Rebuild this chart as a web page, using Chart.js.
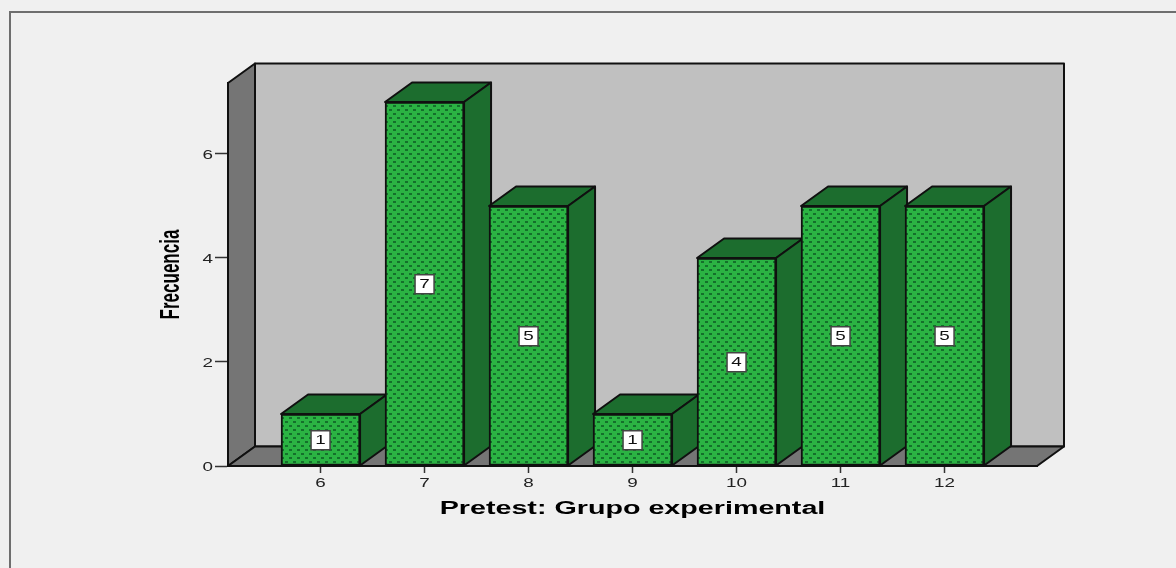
<!DOCTYPE html>
<html><head><meta charset="utf-8">
<style>html,body{margin:0;padding:0;background:#f0f0f0;overflow:hidden}canvas{display:block}</style>
<script src="https://cdn.jsdelivr.net/npm/chart.js@4/dist/chart.umd.js"></script>
</head><body><canvas id="c" width="1176" height="568"></canvas>
<script>
const categories = [6, 7, 8, 9, 10, 11, 12];
const frecuencia = [1, 7, 5, 1, 4, 5, 5];
const yTicks = [0, 2, 4, 6];
const xTitle = 'Pretest: Grupo experimental';
const yTitle = 'Frecuencia';

const DEPTH_X = 27, DEPTH_Y = 19.5;
const pal = {bg:'#f0f0f0', frame:'#6e6e6e', back:'#c0c0c0', wall:'#757575', face:'#1c6d2e', line:'#101010', fg:'#222'};

function dotPattern(ctx){
  const p = document.createElement('canvas'); p.width = 8; p.height = 8;
  const g = p.getContext('2d');
  g.fillStyle = '#2bb343'; g.fillRect(0,0,8,8);
  g.fillStyle = '#14702b';
  g.fillRect(1,1,3,2); g.fillRect(5,5,3,2);
  return ctx.createPattern(p,'repeat');
}
function poly(ctx, pts, fill){
  ctx.beginPath(); pts.forEach((q,i)=> i?ctx.lineTo(q[0],q[1]):ctx.moveTo(q[0],q[1])); ctx.closePath();
  ctx.fillStyle = fill; ctx.fill();
  ctx.lineWidth = 2; ctx.strokeStyle = pal.line; ctx.lineJoin='round'; ctx.stroke();
}
const stretchText = {
  id:'stretchText',
  beforeDraw(chart){
    const ctx = chart.ctx;
    if (ctx.__wrapped) return;
    const orig = ctx.fillText.bind(ctx);
    ctx.fillText = function(t,x,y,w){
      const m = ctx.getTransform();
      const rotated = Math.abs(m.b) > 0.5;
      const sx = rotated ? 0.63 : (ctx.font.indexOf('bold') >= 0 ? 1.593 : 1.45);
      ctx.save(); ctx.translate(x,y);
      ctx.scale(sx, 1);
      orig(t,0,0); ctx.restore();
    };
    ctx.__wrapped = true;
  }
};
const frame3d = {
  id:'frame3d',
  beforeDraw(chart){
    const ctx = chart.ctx;
    ctx.save();
    ctx.fillStyle = pal.bg; ctx.fillRect(0,0,chart.width,chart.height);
    ctx.strokeStyle = pal.frame; ctx.lineWidth = 2;
    ctx.beginPath(); ctx.moveTo(10,568); ctx.lineTo(10,12); ctx.lineTo(1176,12); ctx.stroke();
    ctx.restore();
  },
  beforeDatasetsDraw(chart){
    const ctx = chart.ctx, a = chart.chartArea;
    const L=a.left,R=a.right,T=a.top,B=a.bottom,dx=DEPTH_X,dy=DEPTH_Y;
    ctx.save();
    poly(ctx,[[L+dx,T-dy],[R+dx,T-dy],[R+dx,B-dy],[L+dx,B-dy]],pal.back);
    poly(ctx,[[L,T],[L+dx,T-dy],[L+dx,B-dy],[L,B]],pal.wall);
    poly(ctx,[[L,B],[L+dx,B-dy],[R+dx,B-dy],[R,B]],pal.wall);
    chart.getDatasetMeta(0).data.forEach(el=>{
      const l=el.x-el.width/2, r=el.x+el.width/2, t=el.y, b=el.base;
      poly(ctx,[[l,t],[l+dx,t-dy],[r+dx,t-dy],[r,t]],pal.face);
      poly(ctx,[[r,t],[r+dx,t-dy],[r+dx,b-dy],[r,b]],pal.face);
    });
    ctx.restore();
  },
  afterDatasetsDraw(chart){
    const ctx = chart.ctx;
    const vals = chart.data.datasets[0].data;
    ctx.save();
    chart.getDatasetMeta(0).data.forEach((el,i)=>{
      const cy=(el.y+el.base)/2+0.5, s=19;
      ctx.fillStyle='#fff'; ctx.fillRect(el.x-s/2,cy-s/2,s,s);
      ctx.strokeStyle='#444'; ctx.lineWidth=1.5; ctx.strokeRect(el.x-s/2,cy-s/2,s,s);
      ctx.fillStyle='#111'; ctx.font='13px "Liberation Sans"'; ctx.textAlign='center'; ctx.textBaseline='middle';
      ctx.fillText(String(vals[i].y),el.x,cy+0.5);
    });
    ctx.restore();
  }
};
const ctx = document.getElementById('c').getContext('2d');
new Chart(ctx,{
  type:'bar',
  data:{datasets:[{label:yTitle,
    data:categories.map((c,i)=>({x:c,y:frecuencia[i]})),
    backgroundColor:dotPattern(ctx),borderColor:pal.line,borderWidth:2,borderSkipped:false,barThickness:79}]},
  plugins:[stretchText,frame3d],
  options:{
    responsive:false,animation:false,devicePixelRatio:1,
    layout:{padding:{left:155,top:83,right:139,bottom:30}},
    plugins:{legend:{display:false},tooltip:{enabled:false},title:{display:false}},
    scales:{
      x:{type:'linear',min:5.11,max:12.889,offset:false,
        grid:{display:true,offset:false,drawOnChartArea:false,drawTicks:true,tickLength:7,color:'#333',tickWidth:1.5},
        border:{display:true,color:pal.line,width:2},
        ticks:{stepSize:1,color:pal.fg,font:{family:'"Liberation Sans"',size:13},padding:3,maxRotation:0,autoSkip:false},
        afterBuildTicks(s){s.ticks=categories.map(v=>({value:v}));},
        afterFit(s){s.height=72;},
        title:{display:true,text:xTitle,color:'#000',font:{family:'"Liberation Sans"',size:18,weight:'bold'},padding:{top:0,bottom:18}}},
      y:{min:0,max:7.365,
        grid:{display:true,drawOnChartArea:false,drawTicks:true,tickLength:13,color:'#333',tickWidth:1.5},
        border:{display:true,color:pal.line,width:2},
        ticks:{stepSize:2,color:pal.fg,font:{family:'"Liberation Sans"',size:13},padding:2,labelOffset:1},
        afterBuildTicks(s){s.ticks=yTicks.map(v=>({value:v}));},
        afterFit(s){s.width=73;},
        title:{display:true,text:yTitle,color:'#000',font:{family:'"Liberation Sans"',size:27,weight:'bold'},padding:{top:0,bottom:0}}}
    }
  }
});
</script></body></html>
